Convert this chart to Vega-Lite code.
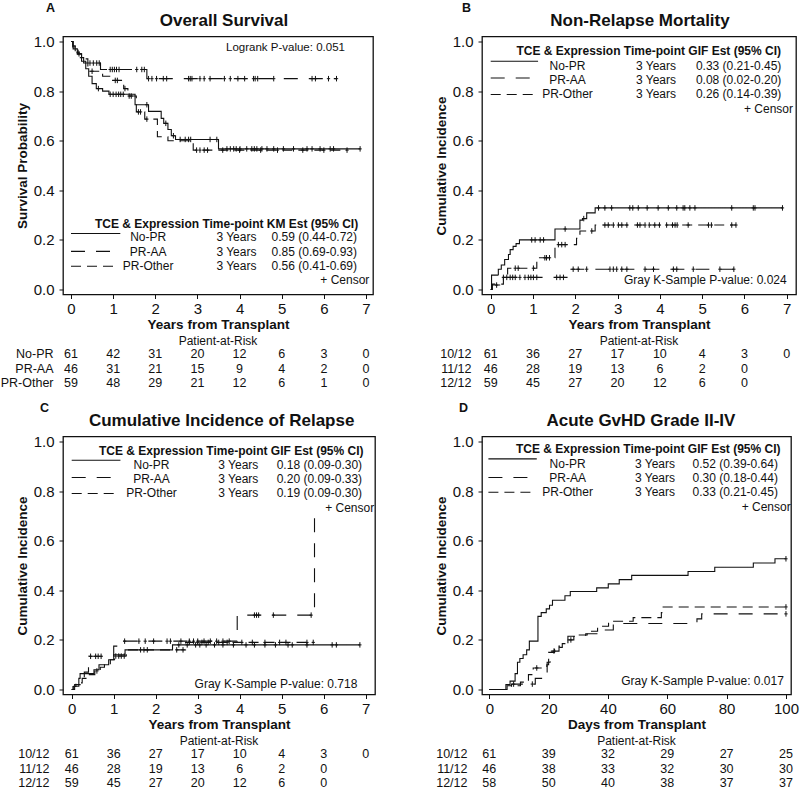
{
"$schema": "https://vega.github.io/schema/vega-lite/v6.json",
"padding": {"left": 0, "top": 1.5, "right": 0, "bottom": 0},
"background": "white",
"columns": 2,
"spacing": {"row": 44, "column": 107},
"bounds": "flush",
"config": {
  "font": "Liberation Sans",
  "view": {"stroke": "#111", "strokeWidth": 1.3},
  "axis": {"grid": false, "domain": false, "ticks": true, "tickColor": "#111", "tickSize": 4, "labelColor": "#111", "labelFontSize": 15, "labelFont": "Liberation Sans", "titleFont": "Liberation Sans", "titleFontSize": 13.5, "titleFontWeight": "bold", "titleColor": "#111"},
  "axisX": {"labelPadding": 3, "titlePadding": 1},
  "axisY": {"labelPadding": 5, "titlePadding": 4},
  "title": {"font": "Liberation Sans", "color": "#111"},
  "text": {"font": "Liberation Sans", "fontSize": 12, "color": "#111"}
},
"datasets": {
"curveA": [
{"g":"No-PR","t":0,"s":1},{"g":"No-PR","t":0.05,"s":0.97},{"g":"No-PR","t":0.15,"s":0.95},{"g":"No-PR","t":0.25,"s":0.92},{"g":"No-PR","t":0.35,"s":0.89},{"g":"No-PR","t":0.42,"s":0.86},{"g":"No-PR","t":0.5,"s":0.83},{"g":"No-PR","t":0.6,"s":0.81},{"g":"No-PR","t":0.75,"s":0.8},{"g":"No-PR","t":0.9,"s":0.787},{"g":"No-PR","t":1.52,"s":0.745},{"g":"No-PR","t":1.84,"s":0.718},{"g":"No-PR","t":2.14,"s":0.69},{"g":"No-PR","t":2.2,"s":0.67},{"g":"No-PR","t":2.3,"s":0.645},{"g":"No-PR","t":2.38,"s":0.62},{"g":"No-PR","t":2.48,"s":0.605},{"g":"No-PR","t":3.5,"s":0.567},{"g":"No-PR","t":6.86,"s":0.567},
{"g":"PR-AA","t":0,"s":1},{"g":"PR-AA","t":0.04,"s":0.978},{"g":"PR-AA","t":0.1,"s":0.956},{"g":"PR-AA","t":0.22,"s":0.935},{"g":"PR-AA","t":0.3,"s":0.913},{"g":"PR-AA","t":0.7,"s":0.887},{"g":"PR-AA","t":1.8,"s":0.85},{"g":"PR-AA","t":6.3,"s":0.85},
{"g":"PR-Other","t":0,"s":1},{"g":"PR-Other","t":0.05,"s":0.983},{"g":"PR-Other","t":0.1,"s":0.966},{"g":"PR-Other","t":0.15,"s":0.95},{"g":"PR-Other","t":0.25,"s":0.93},{"g":"PR-Other","t":0.4,"s":0.88},{"g":"PR-Other","t":0.75,"s":0.86},{"g":"PR-Other","t":0.95,"s":0.843},{"g":"PR-Other","t":1.25,"s":0.81},{"g":"PR-Other","t":1.35,"s":0.78},{"g":"PR-Other","t":1.55,"s":0.716},{"g":"PR-Other","t":1.75,"s":0.687},{"g":"PR-Other","t":2.05,"s":0.616},{"g":"PR-Other","t":2.3,"s":0.6},{"g":"PR-Other","t":2.9,"s":0.562},{"g":"PR-Other","t":6.55,"s":0.562}
],
"censA": [
{"g":"No-PR","t":0.65,"s":0.81},{"g":"No-PR","t":0.93,"s":0.787},{"g":"No-PR","t":1.0,"s":0.787},{"g":"No-PR","t":1.07,"s":0.787},{"g":"No-PR","t":1.13,"s":0.787},{"g":"No-PR","t":1.18,"s":0.787},{"g":"No-PR","t":1.24,"s":0.787},{"g":"No-PR","t":1.8,"s":0.745},{"g":"No-PR","t":2.25,"s":0.67},{"g":"No-PR","t":2.43,"s":0.62},{"g":"No-PR","t":2.59,"s":0.605},{"g":"No-PR","t":2.71,"s":0.605},{"g":"No-PR","t":2.79,"s":0.605},{"g":"No-PR","t":2.84,"s":0.605},{"g":"No-PR","t":3.3,"s":0.605},{"g":"No-PR","t":3.46,"s":0.605},{"g":"No-PR","t":3.7,"s":0.567},{"g":"No-PR","t":3.78,"s":0.567},{"g":"No-PR","t":3.86,"s":0.567},{"g":"No-PR","t":3.92,"s":0.567},{"g":"No-PR","t":4.01,"s":0.567},{"g":"No-PR","t":4.17,"s":0.567},{"g":"No-PR","t":4.29,"s":0.567},{"g":"No-PR","t":4.35,"s":0.567},{"g":"No-PR","t":4.41,"s":0.567},{"g":"No-PR","t":4.53,"s":0.567},{"g":"No-PR","t":4.65,"s":0.567},{"g":"No-PR","t":4.81,"s":0.567},{"g":"No-PR","t":5.04,"s":0.567},{"g":"No-PR","t":5.28,"s":0.567},{"g":"No-PR","t":5.6,"s":0.567},{"g":"No-PR","t":5.72,"s":0.567},{"g":"No-PR","t":5.91,"s":0.567},{"g":"No-PR","t":6.15,"s":0.567},{"g":"No-PR","t":6.23,"s":0.567},{"g":"No-PR","t":6.86,"s":0.567},
{"g":"PR-AA","t":0.17,"s":0.956},{"g":"PR-AA","t":0.45,"s":0.913},{"g":"PR-AA","t":0.53,"s":0.913},{"g":"PR-AA","t":0.61,"s":0.913},{"g":"PR-AA","t":0.67,"s":0.913},{"g":"PR-AA","t":0.93,"s":0.887},{"g":"PR-AA","t":0.98,"s":0.887},{"g":"PR-AA","t":1.03,"s":0.887},{"g":"PR-AA","t":1.08,"s":0.887},{"g":"PR-AA","t":1.14,"s":0.887},{"g":"PR-AA","t":1.56,"s":0.887},{"g":"PR-AA","t":1.68,"s":0.887},{"g":"PR-AA","t":1.74,"s":0.887},{"g":"PR-AA","t":1.84,"s":0.85},{"g":"PR-AA","t":1.92,"s":0.85},{"g":"PR-AA","t":2.03,"s":0.85},{"g":"PR-AA","t":2.19,"s":0.85},{"g":"PR-AA","t":2.27,"s":0.85},{"g":"PR-AA","t":2.79,"s":0.85},{"g":"PR-AA","t":2.83,"s":0.85},{"g":"PR-AA","t":2.87,"s":0.85},{"g":"PR-AA","t":3.06,"s":0.85},{"g":"PR-AA","t":3.16,"s":0.85},{"g":"PR-AA","t":3.3,"s":0.85},{"g":"PR-AA","t":3.64,"s":0.85},{"g":"PR-AA","t":3.78,"s":0.85},{"g":"PR-AA","t":3.96,"s":0.85},{"g":"PR-AA","t":4.12,"s":0.85},{"g":"PR-AA","t":4.33,"s":0.85},{"g":"PR-AA","t":4.37,"s":0.85},{"g":"PR-AA","t":4.43,"s":0.85},{"g":"PR-AA","t":4.81,"s":0.85},{"g":"PR-AA","t":5.72,"s":0.85},{"g":"PR-AA","t":5.8,"s":0.85},{"g":"PR-AA","t":6.11,"s":0.85},{"g":"PR-AA","t":6.3,"s":0.85},
{"g":"PR-Other","t":0.19,"s":0.95},{"g":"PR-Other","t":0.5,"s":0.88},{"g":"PR-Other","t":1.05,"s":0.843},{"g":"PR-Other","t":1.1,"s":0.843},{"g":"PR-Other","t":1.28,"s":0.81},{"g":"PR-Other","t":1.38,"s":0.78},{"g":"PR-Other","t":1.43,"s":0.78},{"g":"PR-Other","t":1.6,"s":0.716},{"g":"PR-Other","t":1.65,"s":0.716},{"g":"PR-Other","t":1.8,"s":0.687},{"g":"PR-Other","t":2.98,"s":0.562},{"g":"PR-Other","t":3.06,"s":0.562},{"g":"PR-Other","t":3.16,"s":0.562},{"g":"PR-Other","t":3.24,"s":0.562},{"g":"PR-Other","t":3.6,"s":0.562},{"g":"PR-Other","t":4.0,"s":0.562},{"g":"PR-Other","t":4.5,"s":0.562},{"g":"PR-Other","t":4.9,"s":0.562},{"g":"PR-Other","t":5.5,"s":0.562},{"g":"PR-Other","t":6.0,"s":0.562},{"g":"PR-Other","t":6.55,"s":0.562}
],
"curveB": [
{"g":"No-PR","t":0,"s":0},{"g":"No-PR","t":0.02,"s":0.058},{"g":"No-PR","t":0.18,"s":0.082},{"g":"No-PR","t":0.25,"s":0.099},{"g":"No-PR","t":0.33,"s":0.121},{"g":"No-PR","t":0.42,"s":0.141},{"g":"No-PR","t":0.46,"s":0.161},{"g":"No-PR","t":0.53,"s":0.174},{"g":"No-PR","t":0.6,"s":0.185},{"g":"No-PR","t":0.68,"s":0.2},{"g":"No-PR","t":1.52,"s":0.244},{"g":"No-PR","t":2.11,"s":0.28},{"g":"No-PR","t":2.17,"s":0.286},{"g":"No-PR","t":2.27,"s":0.309},{"g":"No-PR","t":2.47,"s":0.329},{"g":"No-PR","t":6.9,"s":0.329},
{"g":"PR-AA","t":0,"s":0},{"g":"PR-AA","t":0.02,"s":0.018},{"g":"PR-AA","t":0.26,"s":0.049},{"g":"PR-AA","t":1.88,"s":0.082},{"g":"PR-AA","t":5.75,"s":0.082},
{"g":"PR-Other","t":0,"s":0},{"g":"PR-Other","t":0.04,"s":0.022},{"g":"PR-Other","t":0.3,"s":0.06},{"g":"PR-Other","t":0.4,"s":0.086},{"g":"PR-Other","t":1.09,"s":0.128},{"g":"PR-Other","t":1.52,"s":0.181},{"g":"PR-Other","t":2.03,"s":0.207},{"g":"PR-Other","t":2.11,"s":0.236},{"g":"PR-Other","t":2.47,"s":0.26},{"g":"PR-Other","t":5.8,"s":0.26}
],
"censB": [
{"g":"No-PR","t":0.97,"s":0.2},{"g":"No-PR","t":1.05,"s":0.2},{"g":"No-PR","t":1.17,"s":0.2},{"g":"No-PR","t":1.25,"s":0.2},{"g":"No-PR","t":1.76,"s":0.244},{"g":"No-PR","t":2.2,"s":0.286},{"g":"No-PR","t":2.55,"s":0.329},{"g":"No-PR","t":2.7,"s":0.329},{"g":"No-PR","t":2.86,"s":0.329},{"g":"No-PR","t":3.29,"s":0.329},{"g":"No-PR","t":3.36,"s":0.329},{"g":"No-PR","t":3.49,"s":0.329},{"g":"No-PR","t":3.7,"s":0.329},{"g":"No-PR","t":3.96,"s":0.329},{"g":"No-PR","t":4.2,"s":0.329},{"g":"No-PR","t":4.4,"s":0.329},{"g":"No-PR","t":4.55,"s":0.329},{"g":"No-PR","t":4.59,"s":0.329},{"g":"No-PR","t":4.71,"s":0.329},{"g":"No-PR","t":4.83,"s":0.329},{"g":"No-PR","t":5.7,"s":0.329},{"g":"No-PR","t":6.21,"s":0.329},{"g":"No-PR","t":6.25,"s":0.329},{"g":"No-PR","t":6.9,"s":0.329},
{"g":"PR-AA","t":0.14,"s":0.018},{"g":"PR-AA","t":0.3,"s":0.049},{"g":"PR-AA","t":0.38,"s":0.049},{"g":"PR-AA","t":0.46,"s":0.049},{"g":"PR-AA","t":0.52,"s":0.049},{"g":"PR-AA","t":0.58,"s":0.049},{"g":"PR-AA","t":0.69,"s":0.049},{"g":"PR-AA","t":0.81,"s":0.049},{"g":"PR-AA","t":0.89,"s":0.049},{"g":"PR-AA","t":0.95,"s":0.049},{"g":"PR-AA","t":1.01,"s":0.049},{"g":"PR-AA","t":1.09,"s":0.049},{"g":"PR-AA","t":1.56,"s":0.049},{"g":"PR-AA","t":1.64,"s":0.049},{"g":"PR-AA","t":1.72,"s":0.049},{"g":"PR-AA","t":1.95,"s":0.082},{"g":"PR-AA","t":2.07,"s":0.082},{"g":"PR-AA","t":2.27,"s":0.082},{"g":"PR-AA","t":2.82,"s":0.082},{"g":"PR-AA","t":2.9,"s":0.082},{"g":"PR-AA","t":2.98,"s":0.082},{"g":"PR-AA","t":3.1,"s":0.082},{"g":"PR-AA","t":3.22,"s":0.082},{"g":"PR-AA","t":3.65,"s":0.082},{"g":"PR-AA","t":3.85,"s":0.082},{"g":"PR-AA","t":4.32,"s":0.082},{"g":"PR-AA","t":4.4,"s":0.082},{"g":"PR-AA","t":4.79,"s":0.082},{"g":"PR-AA","t":5.42,"s":0.082},{"g":"PR-AA","t":5.75,"s":0.082},
{"g":"PR-Other","t":0.58,"s":0.086},{"g":"PR-Other","t":0.65,"s":0.086},{"g":"PR-Other","t":1.01,"s":0.086},{"g":"PR-Other","t":1.28,"s":0.128},{"g":"PR-Other","t":1.32,"s":0.128},{"g":"PR-Other","t":1.39,"s":0.128},{"g":"PR-Other","t":1.6,"s":0.181},{"g":"PR-Other","t":1.68,"s":0.181},{"g":"PR-Other","t":1.76,"s":0.181},{"g":"PR-Other","t":2.39,"s":0.236},{"g":"PR-Other","t":2.7,"s":0.26},{"g":"PR-Other","t":2.78,"s":0.26},{"g":"PR-Other","t":2.9,"s":0.26},{"g":"PR-Other","t":3.02,"s":0.26},{"g":"PR-Other","t":3.1,"s":0.26},{"g":"PR-Other","t":3.22,"s":0.26},{"g":"PR-Other","t":3.47,"s":0.26},{"g":"PR-Other","t":3.53,"s":0.26},{"g":"PR-Other","t":3.65,"s":0.26},{"g":"PR-Other","t":3.75,"s":0.26},{"g":"PR-Other","t":3.88,"s":0.26},{"g":"PR-Other","t":3.99,"s":0.26},{"g":"PR-Other","t":4.16,"s":0.26},{"g":"PR-Other","t":4.3,"s":0.26},{"g":"PR-Other","t":4.36,"s":0.26},{"g":"PR-Other","t":4.41,"s":0.26},{"g":"PR-Other","t":4.67,"s":0.26},{"g":"PR-Other","t":5.15,"s":0.26},{"g":"PR-Other","t":5.22,"s":0.26},{"g":"PR-Other","t":5.7,"s":0.26},{"g":"PR-Other","t":5.8,"s":0.26}
],
"curveC": [
{"g":"No-PR","t":0,"s":0},{"g":"No-PR","t":0.05,"s":0.013},{"g":"No-PR","t":0.17,"s":0.045},{"g":"No-PR","t":0.2,"s":0.064},{"g":"No-PR","t":0.53,"s":0.08},{"g":"No-PR","t":0.65,"s":0.1},{"g":"No-PR","t":0.88,"s":0.12},{"g":"No-PR","t":1.0,"s":0.14},{"g":"No-PR","t":1.27,"s":0.16},{"g":"No-PR","t":2.4,"s":0.18},{"g":"No-PR","t":6.86,"s":0.18},
{"g":"PR-AA","t":0,"s":0},{"g":"PR-AA","t":0.07,"s":0.02},{"g":"PR-AA","t":0.2,"s":0.045},{"g":"PR-AA","t":0.3,"s":0.07},{"g":"PR-AA","t":0.4,"s":0.134},{"g":"PR-AA","t":1.0,"s":0.175},{"g":"PR-AA","t":1.1,"s":0.195},{"g":"PR-AA","t":3.94,"s":0.3},{"g":"PR-AA","t":5.78,"s":0.69},
{"g":"PR-Other","t":0,"s":0},{"g":"PR-Other","t":0.03,"s":0.012},{"g":"PR-Other","t":0.1,"s":0.027},{"g":"PR-Other","t":0.25,"s":0.045},{"g":"PR-Other","t":0.42,"s":0.06},{"g":"PR-Other","t":0.55,"s":0.075},{"g":"PR-Other","t":0.68,"s":0.09},{"g":"PR-Other","t":0.78,"s":0.1},{"g":"PR-Other","t":0.92,"s":0.12},{"g":"PR-Other","t":1.02,"s":0.135},{"g":"PR-Other","t":1.3,"s":0.16},{"g":"PR-Other","t":2.71,"s":0.19},{"g":"PR-Other","t":5.75,"s":0.19}
],
"censC": [
{"g":"No-PR","t":1.64,"s":0.16},{"g":"No-PR","t":1.72,"s":0.16},{"g":"No-PR","t":1.8,"s":0.16},{"g":"No-PR","t":2.55,"s":0.18},{"g":"No-PR","t":2.75,"s":0.18},{"g":"No-PR","t":2.95,"s":0.18},{"g":"No-PR","t":3.05,"s":0.18},{"g":"No-PR","t":3.2,"s":0.18},{"g":"No-PR","t":3.4,"s":0.18},{"g":"No-PR","t":3.6,"s":0.18},{"g":"No-PR","t":3.85,"s":0.18},{"g":"No-PR","t":4.15,"s":0.18},{"g":"No-PR","t":4.35,"s":0.18},{"g":"No-PR","t":4.6,"s":0.18},{"g":"No-PR","t":4.85,"s":0.18},{"g":"No-PR","t":5.15,"s":0.18},{"g":"No-PR","t":5.25,"s":0.18},{"g":"No-PR","t":5.6,"s":0.18},{"g":"No-PR","t":6.2,"s":0.18},{"g":"No-PR","t":6.3,"s":0.18},{"g":"No-PR","t":6.86,"s":0.18},
{"g":"PR-AA","t":0.45,"s":0.134},{"g":"PR-AA","t":0.57,"s":0.134},{"g":"PR-AA","t":0.63,"s":0.134},{"g":"PR-AA","t":0.7,"s":0.134},{"g":"PR-AA","t":1.26,"s":0.195},{"g":"PR-AA","t":1.6,"s":0.195},{"g":"PR-AA","t":1.75,"s":0.195},{"g":"PR-AA","t":1.95,"s":0.195},{"g":"PR-AA","t":2.27,"s":0.195},{"g":"PR-AA","t":2.35,"s":0.195},{"g":"PR-AA","t":2.6,"s":0.195},{"g":"PR-AA","t":2.8,"s":0.195},{"g":"PR-AA","t":2.9,"s":0.195},{"g":"PR-AA","t":3.0,"s":0.195},{"g":"PR-AA","t":3.15,"s":0.195},{"g":"PR-AA","t":3.3,"s":0.195},{"g":"PR-AA","t":3.45,"s":0.195},{"g":"PR-AA","t":3.6,"s":0.195},{"g":"PR-AA","t":3.75,"s":0.195},{"g":"PR-AA","t":4.35,"s":0.3},{"g":"PR-AA","t":4.4,"s":0.3},{"g":"PR-AA","t":4.45,"s":0.3},{"g":"PR-AA","t":4.8,"s":0.3},{"g":"PR-AA","t":5.7,"s":0.3},
{"g":"PR-Other","t":0.6,"s":0.075},{"g":"PR-Other","t":1.05,"s":0.135},{"g":"PR-Other","t":1.12,"s":0.135},{"g":"PR-Other","t":1.18,"s":0.135},{"g":"PR-Other","t":1.25,"s":0.135},{"g":"PR-Other","t":2.5,"s":0.16},{"g":"PR-Other","t":2.65,"s":0.16},{"g":"PR-Other","t":2.8,"s":0.19},{"g":"PR-Other","t":3.0,"s":0.19},{"g":"PR-Other","t":3.1,"s":0.19},{"g":"PR-Other","t":3.25,"s":0.19},{"g":"PR-Other","t":3.5,"s":0.19},{"g":"PR-Other","t":3.7,"s":0.19},{"g":"PR-Other","t":4.05,"s":0.19},{"g":"PR-Other","t":4.3,"s":0.19},{"g":"PR-Other","t":4.6,"s":0.19},{"g":"PR-Other","t":4.95,"s":0.19},{"g":"PR-Other","t":5.1,"s":0.19},{"g":"PR-Other","t":5.6,"s":0.19},{"g":"PR-Other","t":5.75,"s":0.19}
],
"curveD": [
{"g":"No-PR","t":0,"s":0},{"g":"No-PR","t":5.6,"s":0.02},{"g":"No-PR","t":7,"s":0.034},{"g":"No-PR","t":8.7,"s":0.064},{"g":"No-PR","t":9.5,"s":0.11},{"g":"No-PR","t":10.3,"s":0.125},{"g":"No-PR","t":11.4,"s":0.14},{"g":"No-PR","t":12.6,"s":0.16},{"g":"No-PR","t":13.5,"s":0.195},{"g":"No-PR","t":16.4,"s":0.295},{"g":"No-PR","t":17.5,"s":0.31},{"g":"No-PR","t":19.2,"s":0.325},{"g":"No-PR","t":20.3,"s":0.34},{"g":"No-PR","t":21.3,"s":0.36},{"g":"No-PR","t":25.5,"s":0.378},{"g":"No-PR","t":27.3,"s":0.395},{"g":"No-PR","t":36.2,"s":0.41},{"g":"No-PR","t":40.1,"s":0.426},{"g":"No-PR","t":43.8,"s":0.443},{"g":"No-PR","t":48,"s":0.46},{"g":"No-PR","t":67,"s":0.476},{"g":"No-PR","t":76,"s":0.493},{"g":"No-PR","t":89,"s":0.51},{"g":"No-PR","t":96.3,"s":0.527},{"g":"No-PR","t":100,"s":0.527},
{"g":"PR-AA","t":0,"s":0},{"g":"PR-AA","t":7.5,"s":0.022},{"g":"PR-AA","t":15.5,"s":0.045},{"g":"PR-AA","t":19.5,"s":0.11},{"g":"PR-AA","t":20.5,"s":0.155},{"g":"PR-AA","t":23.5,"s":0.175},{"g":"PR-AA","t":26.5,"s":0.215},{"g":"PR-AA","t":32.5,"s":0.225},{"g":"PR-AA","t":38,"s":0.24},{"g":"PR-AA","t":41.8,"s":0.266},{"g":"PR-AA","t":70,"s":0.285},{"g":"PR-AA","t":71.6,"s":0.305},{"g":"PR-AA","t":100,"s":0.305},
{"g":"PR-Other","t":0,"s":0},{"g":"PR-Other","t":6,"s":0.015},{"g":"PR-Other","t":10.5,"s":0.03},{"g":"PR-Other","t":13.2,"s":0.06},{"g":"PR-Other","t":14.8,"s":0.087},{"g":"PR-Other","t":19.4,"s":0.1},{"g":"PR-Other","t":20,"s":0.15},{"g":"PR-Other","t":22,"s":0.17},{"g":"PR-Other","t":24.6,"s":0.185},{"g":"PR-Other","t":26,"s":0.2},{"g":"PR-Other","t":28.5,"s":0.22},{"g":"PR-Other","t":33,"s":0.235},{"g":"PR-Other","t":36.5,"s":0.255},{"g":"PR-Other","t":40.2,"s":0.275},{"g":"PR-Other","t":48.5,"s":0.29},{"g":"PR-Other","t":58,"s":0.31},{"g":"PR-Other","t":58.6,"s":0.333},{"g":"PR-Other","t":100,"s":0.333}
],
"censD": [
{"g":"No-PR","t":100,"s":0.527},{"g":"PR-AA","t":8.2,"s":0.022},{"g":"PR-AA","t":14.5,"s":0.022},{"g":"PR-AA","t":21.8,"s":0.155},{"g":"PR-AA","t":100,"s":0.305},{"g":"PR-Other","t":16,"s":0.087},{"g":"PR-Other","t":27.5,"s":0.2},{"g":"PR-Other","t":100,"s":0.333}
],
"riskA": [
{"g":"No-PR","t":0,"n":61},{"g":"No-PR","t":1,"n":42},{"g":"No-PR","t":2,"n":31},{"g":"No-PR","t":3,"n":20},{"g":"No-PR","t":4,"n":12},{"g":"No-PR","t":5,"n":6},{"g":"No-PR","t":6,"n":3},{"g":"No-PR","t":7,"n":0},
{"g":"PR-AA","t":0,"n":46},{"g":"PR-AA","t":1,"n":31},{"g":"PR-AA","t":2,"n":21},{"g":"PR-AA","t":3,"n":15},{"g":"PR-AA","t":4,"n":9},{"g":"PR-AA","t":5,"n":4},{"g":"PR-AA","t":6,"n":2},{"g":"PR-AA","t":7,"n":0},
{"g":"PR-Other","t":0,"n":59},{"g":"PR-Other","t":1,"n":48},{"g":"PR-Other","t":2,"n":29},{"g":"PR-Other","t":3,"n":21},{"g":"PR-Other","t":4,"n":12},{"g":"PR-Other","t":5,"n":6},{"g":"PR-Other","t":6,"n":1},{"g":"PR-Other","t":7,"n":0}
],
"riskBC": [
{"g":"10/12","t":0,"n":61},{"g":"10/12","t":1,"n":36},{"g":"10/12","t":2,"n":27},{"g":"10/12","t":3,"n":17},{"g":"10/12","t":4,"n":10},{"g":"10/12","t":5,"n":4},{"g":"10/12","t":6,"n":3},{"g":"10/12","t":7,"n":0},
{"g":"11/12","t":0,"n":46},{"g":"11/12","t":1,"n":28},{"g":"11/12","t":2,"n":19},{"g":"11/12","t":3,"n":13},{"g":"11/12","t":4,"n":6},{"g":"11/12","t":5,"n":2},{"g":"11/12","t":6,"n":0},
{"g":"12/12","t":0,"n":59},{"g":"12/12","t":1,"n":45},{"g":"12/12","t":2,"n":27},{"g":"12/12","t":3,"n":20},{"g":"12/12","t":4,"n":12},{"g":"12/12","t":5,"n":6},{"g":"12/12","t":6,"n":0}
],
"riskD": [
{"g":"10/12","t":0,"n":61},{"g":"10/12","t":20,"n":39},{"g":"10/12","t":40,"n":32},{"g":"10/12","t":60,"n":29},{"g":"10/12","t":80,"n":27},{"g":"10/12","t":100,"n":25},
{"g":"11/12","t":0,"n":46},{"g":"11/12","t":20,"n":38},{"g":"11/12","t":40,"n":33},{"g":"11/12","t":60,"n":32},{"g":"11/12","t":80,"n":30},{"g":"11/12","t":100,"n":30},
{"g":"12/12","t":0,"n":58},{"g":"12/12","t":20,"n":50},{"g":"12/12","t":40,"n":40},{"g":"12/12","t":60,"n":38},{"g":"12/12","t":80,"n":37},{"g":"12/12","t":100,"n":37}
]
},
"concat": [
{
 "width": 310, "height": 258,
 "layer": [
  {"data": {"name": "curveA"}, "mark": {"type": "line", "interpolate": "step-after", "color": "#111", "strokeWidth": 1.1},
   "encoding": {
    "x": {"field": "t", "type": "quantitative", "scale": {"domain": [-0.19, 7.166], "nice": false, "zero": false}, "axis": {"values": [0,1,2,3,4,5,6,7], "format": "d", "title": "Years from Transplant"}},
    "y": {"field": "s", "type": "quantitative", "scale": {"domain": [-0.02, 1.02], "nice": false, "zero": false}, "axis": {"values": [0,0.2,0.4,0.6,0.8,1], "format": ".1f", "title": "Survival Probability"}},
    "strokeDash": {"field": "g", "type": "nominal", "scale": {"domain": ["No-PR","PR-AA","PR-Other"], "range": [[1,0],[14,11],[10,6]]}, "legend": null}}},
  {"data": {"name": "censA"}, "mark": {"type": "point", "shape": "M0,-1L0,1M-0.6,0L0.6,0", "size": 30, "filled": false, "color": "#111", "strokeWidth": 1, "opacity": 1},
   "encoding": {"x": {"field": "t", "type": "quantitative"}, "y": {"field": "s", "type": "quantitative"}}},
  {"data": {"values": [{}]}, "mark": {"type": "text", "text": "A", "align": "left", "baseline": "alphabetic", "fontWeight": "bold", "fontSize": 12.5},
   "encoding": {"x": {"datum": -0.593, "type": "quantitative"}, "y": {"datum": 1.117, "type": "quantitative"}}},
  {"data": {"values": [{}]}, "mark": {"type": "text", "text": "Overall Survival", "align": "center", "baseline": "alphabetic", "fontWeight": "bold", "fontSize": 17},
   "encoding": {"x": {"datum": 3.63, "type": "quantitative"}, "y": {"datum": 1.062, "type": "quantitative"}}},
  {"data": {"values": [{}]}, "mark": {"type": "text", "text": "TCE & Expression Time-point KM Est (95% CI)", "align": "left", "baseline": "middle", "fontWeight": "bold"},
   "encoding": {"x": {"datum": 0.57, "type": "quantitative"}, "y": {"datum": 0.265, "type": "quantitative"}}},
  {"data": {"values": [{}]}, "mark": {"type": "text", "text": ["No-PR","PR-AA","PR-Other"], "align": "center", "baseline": "middle", "lineHeight": 14.3},
   "encoding": {"x": {"datum": 1.83, "type": "quantitative"}, "y": {"datum": 0.21, "type": "quantitative"}}},
  {"data": {"values": [{}]}, "mark": {"type": "text", "text": ["3 Years","3 Years","3 Years"], "align": "left", "baseline": "middle", "lineHeight": 14.3},
   "encoding": {"x": {"datum": 3.45, "type": "quantitative"}, "y": {"datum": 0.21, "type": "quantitative"}}},
  {"data": {"values": [{}]}, "mark": {"type": "text", "text": ["0.59 (0.44-0.72)","0.85 (0.69-0.93)","0.56 (0.41-0.69)"], "align": "left", "baseline": "middle", "lineHeight": 14.3},
   "encoding": {"x": {"datum": 4.76, "type": "quantitative"}, "y": {"datum": 0.21, "type": "quantitative"}}},
  {"data": {"values": [{}]}, "mark": {"type": "text", "text": "+ Censor", "align": "right", "baseline": "middle"},
   "encoding": {"x": {"datum": 7.08, "type": "quantitative"}, "y": {"datum": 0.0375, "type": "quantitative"}}},
  {"data": {"values": [{}]}, "mark": {"type": "text", "text": "Logrank P-value: 0.051", "align": "right", "baseline": "middle", "fontSize": 11.5},
   "encoding": {"x": {"datum": 6.5, "type": "quantitative"}, "y": {"datum": 0.975, "type": "quantitative"}}},
  {"data": {"values": [{}]}, "mark": {"type": "rule", "color": "#111", "strokeWidth": 1.1},
   "encoding": {"x": {"datum": 0, "type": "quantitative"}, "x2": {"datum": 1.17}, "y": {"datum": 0.226, "type": "quantitative"}}},
  {"data": {"values": [{}]}, "mark": {"type": "rule", "color": "#111", "strokeWidth": 1.1, "strokeDash": [14,11]},
   "encoding": {"x": {"datum": 0, "type": "quantitative"}, "x2": {"datum": 0.93}, "y": {"datum": 0.154, "type": "quantitative"}}},
  {"data": {"values": [{}]}, "mark": {"type": "rule", "color": "#111", "strokeWidth": 1.1, "strokeDash": [10,6]},
   "encoding": {"x": {"datum": 0, "type": "quantitative"}, "x2": {"datum": 1.0}, "y": {"datum": 0.094, "type": "quantitative"}}}
 ]
},
{
 "width": 314, "height": 258,
 "layer": [
  {"data": {"name": "curveB"}, "mark": {"type": "line", "interpolate": "step-after", "color": "#111", "strokeWidth": 1.1},
   "encoding": {
    "x": {"field": "t", "type": "quantitative", "scale": {"domain": [-0.206, 7.22], "nice": false, "zero": false}, "axis": {"values": [0,1,2,3,4,5,6,7], "format": "d", "title": "Years from Transplant"}},
    "y": {"field": "s", "type": "quantitative", "scale": {"domain": [-0.02, 1.02], "nice": false, "zero": false}, "axis": {"values": [0,0.2,0.4,0.6,0.8,1], "format": ".1f", "title": "Cumulative Incidence"}},
    "strokeDash": {"field": "g", "type": "nominal", "scale": {"domain": ["No-PR","PR-AA","PR-Other"], "range": [[1,0],[14,11],[10,6]]}, "legend": null}}},
  {"data": {"name": "censB"}, "mark": {"type": "point", "shape": "M0,-1L0,1M-0.6,0L0.6,0", "size": 30, "filled": false, "color": "#111", "strokeWidth": 1, "opacity": 1},
   "encoding": {"x": {"field": "t", "type": "quantitative"}, "y": {"field": "s", "type": "quantitative"}}},
  {"data": {"values": [{}]}, "mark": {"type": "text", "text": "B", "align": "left", "baseline": "alphabetic", "fontWeight": "bold", "fontSize": 12.5},
   "encoding": {"x": {"datum": -0.679, "type": "quantitative"}, "y": {"datum": 1.117, "type": "quantitative"}}},
  {"data": {"values": [{}]}, "mark": {"type": "text", "text": "Non-Relapse Mortality", "align": "center", "baseline": "alphabetic", "fontWeight": "bold", "fontSize": 17},
   "encoding": {"x": {"datum": 3.53, "type": "quantitative"}, "y": {"datum": 1.062, "type": "quantitative"}}},
  {"data": {"values": [{}]}, "mark": {"type": "text", "text": "TCE & Expression Time-point GIF Est (95% CI)", "align": "left", "baseline": "middle", "fontWeight": "bold"},
   "encoding": {"x": {"datum": 0.61, "type": "quantitative"}, "y": {"datum": 0.962, "type": "quantitative"}}},
  {"data": {"values": [{}]}, "mark": {"type": "text", "text": ["No-PR","PR-AA","PR-Other"], "align": "center", "baseline": "middle", "lineHeight": 14.3},
   "encoding": {"x": {"datum": 1.816, "type": "quantitative"}, "y": {"datum": 0.902, "type": "quantitative"}}},
  {"data": {"values": [{}]}, "mark": {"type": "text", "text": ["3 Years","3 Years","3 Years"], "align": "left", "baseline": "middle", "lineHeight": 14.3},
   "encoding": {"x": {"datum": 3.435, "type": "quantitative"}, "y": {"datum": 0.902, "type": "quantitative"}}},
  {"data": {"values": [{}]}, "mark": {"type": "text", "text": ["0.33 (0.21-0.45)","0.08 (0.02-0.20)","0.26 (0.14-0.39)"], "align": "left", "baseline": "middle", "lineHeight": 14.3},
   "encoding": {"x": {"datum": 4.853, "type": "quantitative"}, "y": {"datum": 0.902, "type": "quantitative"}}},
  {"data": {"values": [{}]}, "mark": {"type": "text", "text": "+ Censor", "align": "right", "baseline": "middle"},
   "encoding": {"x": {"datum": 7.15, "type": "quantitative"}, "y": {"datum": 0.729, "type": "quantitative"}}},
  {"data": {"values": [{}]}, "mark": {"type": "text", "text": "Gray K-Sample P-value: 0.024", "align": "right", "baseline": "middle"},
   "encoding": {"x": {"datum": 7.0, "type": "quantitative"}, "y": {"datum": 0.04, "type": "quantitative"}}},
  {"data": {"values": [{}]}, "mark": {"type": "rule", "color": "#111", "strokeWidth": 1.1},
   "encoding": {"x": {"datum": 0, "type": "quantitative"}, "x2": {"datum": 1.12}, "y": {"datum": 0.92, "type": "quantitative"}}},
  {"data": {"values": [{}]}, "mark": {"type": "rule", "color": "#111", "strokeWidth": 1.1, "strokeDash": [14,11]},
   "encoding": {"x": {"datum": 0, "type": "quantitative"}, "x2": {"datum": 0.93}, "y": {"datum": 0.853, "type": "quantitative"}}},
  {"data": {"values": [{}]}, "mark": {"type": "rule", "color": "#111", "strokeWidth": 1.1, "strokeDash": [10,6]},
   "encoding": {"x": {"datum": 0, "type": "quantitative"}, "x2": {"datum": 1.0}, "y": {"datum": 0.786, "type": "quantitative"}}}
 ]
},
{
 "width": 310, "height": 54,
 "view": {"stroke": null},
 "title": {"text": "Patient-at-Risk", "frame": "group", "anchor": "middle", "fontSize": 12, "fontWeight": "normal", "offset": -9},
 "data": {"name": "riskA"},
 "mark": {"type": "text", "fontSize": 12.5, "color": "#111"},
 "encoding": {
  "x": {"field": "t", "type": "quantitative", "scale": {"domain": [-0.19, 7.166], "nice": false, "zero": false}, "axis": null},
  "y": {"field": "g", "type": "nominal", "scale": {"type": "band", "domain": ["No-PR","PR-AA","PR-Other"], "paddingInner": 0, "paddingOuter": 0.362, "align": 0.833}, "axis": {"title": null, "ticks": false, "tickSize": 0, "domain": false, "labelPadding": 10, "labelFontSize": 12.5}},
  "text": {"field": "n", "type": "nominal"}}
},
{
 "width": 314, "height": 54,
 "view": {"stroke": null},
 "title": {"text": "Patient-at-Risk", "frame": "group", "anchor": "middle", "fontSize": 12, "fontWeight": "normal", "offset": -9},
 "data": {"name": "riskBC"},
 "mark": {"type": "text", "fontSize": 12.5, "color": "#111"},
 "encoding": {
  "x": {"field": "t", "type": "quantitative", "scale": {"domain": [-0.206, 7.22], "nice": false, "zero": false}, "axis": null},
  "y": {"field": "g", "type": "nominal", "scale": {"type": "band", "domain": ["10/12","11/12","12/12"], "paddingInner": 0, "paddingOuter": 0.362, "align": 0.833}, "axis": {"title": null, "ticks": false, "tickSize": 0, "domain": false, "labelPadding": 11, "labelFontSize": 12.5}},
  "text": {"field": "n", "type": "nominal"}}
},
{
 "width": 312, "height": 258,
 "layer": [
  {"data": {"name": "curveC"}, "mark": {"type": "line", "interpolate": "step-after", "color": "#111", "strokeWidth": 1.1},
   "encoding": {
    "x": {"field": "t", "type": "quantitative", "scale": {"domain": [-0.207, 7.22], "nice": false, "zero": false}, "axis": {"values": [0,1,2,3,4,5,6,7], "format": "d", "title": "Years from Transplant"}},
    "y": {"field": "s", "type": "quantitative", "scale": {"domain": [-0.02, 1.02], "nice": false, "zero": false}, "axis": {"values": [0,0.2,0.4,0.6,0.8,1], "format": ".1f", "title": "Cumulative Incidence"}},
    "strokeDash": {"field": "g", "type": "nominal", "scale": {"domain": ["No-PR","PR-AA","PR-Other"], "range": [[1,0],[14,11],[10,6]]}, "legend": null}}},
  {"data": {"name": "censC"}, "mark": {"type": "point", "shape": "M0,-1L0,1M-0.6,0L0.6,0", "size": 30, "filled": false, "color": "#111", "strokeWidth": 1, "opacity": 1},
   "encoding": {"x": {"field": "t", "type": "quantitative"}, "y": {"field": "s", "type": "quantitative"}}},
  {"data": {"values": [{}]}, "mark": {"type": "text", "text": "C", "align": "left", "baseline": "alphabetic", "fontWeight": "bold", "fontSize": 12.5},
   "encoding": {"x": {"datum": -0.753, "type": "quantitative"}, "y": {"datum": 1.117, "type": "quantitative"}}},
  {"data": {"values": [{}]}, "mark": {"type": "text", "text": "Cumulative Incidence of Relapse", "align": "center", "baseline": "alphabetic", "fontWeight": "bold", "fontSize": 17},
   "encoding": {"x": {"datum": 3.57, "type": "quantitative"}, "y": {"datum": 1.062, "type": "quantitative"}}},
  {"data": {"values": [{}]}, "mark": {"type": "text", "text": "TCE & Expression Time-point GIF Est (95% CI)", "align": "left", "baseline": "middle", "fontWeight": "bold"},
   "encoding": {"x": {"datum": 0.65, "type": "quantitative"}, "y": {"datum": 0.962, "type": "quantitative"}}},
  {"data": {"values": [{}]}, "mark": {"type": "text", "text": ["No-PR","PR-AA","PR-Other"], "align": "center", "baseline": "middle", "lineHeight": 14.3},
   "encoding": {"x": {"datum": 1.9, "type": "quantitative"}, "y": {"datum": 0.906, "type": "quantitative"}}},
  {"data": {"values": [{}]}, "mark": {"type": "text", "text": ["3 Years","3 Years","3 Years"], "align": "left", "baseline": "middle", "lineHeight": 14.3},
   "encoding": {"x": {"datum": 3.49, "type": "quantitative"}, "y": {"datum": 0.906, "type": "quantitative"}}},
  {"data": {"values": [{}]}, "mark": {"type": "text", "text": ["0.18 (0.09-0.30)","0.20 (0.09-0.33)","0.19 (0.09-0.30)"], "align": "left", "baseline": "middle", "lineHeight": 14.3},
   "encoding": {"x": {"datum": 4.88, "type": "quantitative"}, "y": {"datum": 0.906, "type": "quantitative"}}},
  {"data": {"values": [{}]}, "mark": {"type": "text", "text": "+ Censor", "align": "right", "baseline": "middle"},
   "encoding": {"x": {"datum": 7.2, "type": "quantitative"}, "y": {"datum": 0.731, "type": "quantitative"}}},
  {"data": {"values": [{}]}, "mark": {"type": "text", "text": "Gray K-Sample P-value: 0.718", "align": "right", "baseline": "middle"},
   "encoding": {"x": {"datum": 6.8, "type": "quantitative"}, "y": {"datum": 0.024, "type": "quantitative"}}},
  {"data": {"values": [{}]}, "mark": {"type": "rule", "color": "#111", "strokeWidth": 1.1},
   "encoding": {"x": {"datum": 0, "type": "quantitative"}, "x2": {"datum": 1.16}, "y": {"datum": 0.924, "type": "quantitative"}}},
  {"data": {"values": [{}]}, "mark": {"type": "rule", "color": "#111", "strokeWidth": 1.1, "strokeDash": [14,11]},
   "encoding": {"x": {"datum": 0, "type": "quantitative"}, "x2": {"datum": 0.93}, "y": {"datum": 0.855, "type": "quantitative"}}},
  {"data": {"values": [{}]}, "mark": {"type": "rule", "color": "#111", "strokeWidth": 1.1, "strokeDash": [10,6]},
   "encoding": {"x": {"datum": 0, "type": "quantitative"}, "x2": {"datum": 1.0}, "y": {"datum": 0.79, "type": "quantitative"}}}
 ]
},
{
 "width": 309, "height": 258,
 "layer": [
  {"data": {"name": "curveD"}, "mark": {"type": "line", "interpolate": "step-after", "color": "#111", "strokeWidth": 1.1},
   "encoding": {
    "x": {"field": "t", "type": "quantitative", "scale": {"domain": [-2.46, 101.7], "nice": false, "zero": false}, "axis": {"values": [0,20,40,60,80,100], "format": "d", "title": "Days from Transplant"}},
    "y": {"field": "s", "type": "quantitative", "scale": {"domain": [-0.02, 1.02], "nice": false, "zero": false}, "axis": {"values": [0,0.2,0.4,0.6,0.8,1], "format": ".1f", "title": "Cumulative Incidence"}},
    "strokeDash": {"field": "g", "type": "nominal", "scale": {"domain": ["No-PR","PR-AA","PR-Other"], "range": [[1,0],[14,11],[10,6]]}, "legend": null}}},
  {"data": {"name": "censD"}, "mark": {"type": "point", "shape": "M0,-1L0,1M-0.6,0L0.6,0", "size": 30, "filled": false, "color": "#111", "strokeWidth": 1, "opacity": 1},
   "encoding": {"x": {"field": "t", "type": "quantitative"}, "y": {"field": "s", "type": "quantitative"}}},
  {"data": {"values": [{}]}, "mark": {"type": "text", "text": "D", "align": "left", "baseline": "alphabetic", "fontWeight": "bold", "fontSize": 12.5},
   "encoding": {"x": {"datum": -10.2, "type": "quantitative"}, "y": {"datum": 1.117, "type": "quantitative"}}},
  {"data": {"values": [{}]}, "mark": {"type": "text", "text": "Acute GvHD Grade II-IV", "align": "center", "baseline": "alphabetic", "fontWeight": "bold", "fontSize": 17},
   "encoding": {"x": {"datum": 51.1, "type": "quantitative"}, "y": {"datum": 1.062, "type": "quantitative"}}},
  {"data": {"values": [{}]}, "mark": {"type": "text", "text": "TCE & Expression Time-point GIF Est (95% CI)", "align": "left", "baseline": "middle", "fontWeight": "bold"},
   "encoding": {"x": {"datum": 9.0, "type": "quantitative"}, "y": {"datum": 0.969, "type": "quantitative"}}},
  {"data": {"values": [{}]}, "mark": {"type": "text", "text": ["No-PR","PR-AA","PR-Other"], "align": "center", "baseline": "middle", "lineHeight": 14.3},
   "encoding": {"x": {"datum": 26.4, "type": "quantitative"}, "y": {"datum": 0.911, "type": "quantitative"}}},
  {"data": {"values": [{}]}, "mark": {"type": "text", "text": ["3 Years","3 Years","3 Years"], "align": "left", "baseline": "middle", "lineHeight": 14.3},
   "encoding": {"x": {"datum": 49.1, "type": "quantitative"}, "y": {"datum": 0.911, "type": "quantitative"}}},
  {"data": {"values": [{}]}, "mark": {"type": "text", "text": ["0.52 (0.39-0.64)","0.30 (0.18-0.44)","0.33 (0.21-0.45)"], "align": "left", "baseline": "middle", "lineHeight": 14.3},
   "encoding": {"x": {"datum": 68.5, "type": "quantitative"}, "y": {"datum": 0.911, "type": "quantitative"}}},
  {"data": {"values": [{}]}, "mark": {"type": "text", "text": "+ Censor", "align": "right", "baseline": "middle"},
   "encoding": {"x": {"datum": 101.6, "type": "quantitative"}, "y": {"datum": 0.735, "type": "quantitative"}}},
  {"data": {"values": [{}]}, "mark": {"type": "text", "text": "Gray K-Sample P-value: 0.017", "align": "right", "baseline": "middle"},
   "encoding": {"x": {"datum": 99.3, "type": "quantitative"}, "y": {"datum": 0.036, "type": "quantitative"}}},
  {"data": {"values": [{}]}, "mark": {"type": "rule", "color": "#111", "strokeWidth": 1.1},
   "encoding": {"x": {"datum": -0.3, "type": "quantitative"}, "x2": {"datum": 16.0}, "y": {"datum": 0.93, "type": "quantitative"}}},
  {"data": {"values": [{}]}, "mark": {"type": "rule", "color": "#111", "strokeWidth": 1.1, "strokeDash": [14,11]},
   "encoding": {"x": {"datum": -0.3, "type": "quantitative"}, "x2": {"datum": 12.9}, "y": {"datum": 0.855, "type": "quantitative"}}},
  {"data": {"values": [{}]}, "mark": {"type": "rule", "color": "#111", "strokeWidth": 1.1, "strokeDash": [10,6]},
   "encoding": {"x": {"datum": -0.3, "type": "quantitative"}, "x2": {"datum": 13.9}, "y": {"datum": 0.795, "type": "quantitative"}}}
 ]
},
{
 "width": 312, "height": 54,
 "view": {"stroke": null},
 "title": {"text": "Patient-at-Risk", "frame": "group", "anchor": "middle", "fontSize": 12, "fontWeight": "normal", "offset": -9},
 "data": {"name": "riskBC"},
 "mark": {"type": "text", "fontSize": 12.5, "color": "#111"},
 "encoding": {
  "x": {"field": "t", "type": "quantitative", "scale": {"domain": [-0.207, 7.22], "nice": false, "zero": false}, "axis": null},
  "y": {"field": "g", "type": "nominal", "scale": {"type": "band", "domain": ["10/12","11/12","12/12"], "paddingInner": 0, "paddingOuter": 0.362, "align": 0.833}, "axis": {"title": null, "ticks": false, "tickSize": 0, "domain": false, "labelPadding": 14, "labelFontSize": 12.5}},
  "text": {"field": "n", "type": "nominal"}}
},
{
 "width": 309, "height": 54,
 "view": {"stroke": null},
 "title": {"text": "Patient-at-Risk", "frame": "group", "anchor": "middle", "fontSize": 12, "fontWeight": "normal", "offset": -9},
 "data": {"name": "riskD"},
 "mark": {"type": "text", "fontSize": 12.5, "color": "#111"},
 "encoding": {
  "x": {"field": "t", "type": "quantitative", "scale": {"domain": [-2.46, 101.7], "nice": false, "zero": false}, "axis": null},
  "y": {"field": "g", "type": "nominal", "scale": {"type": "band", "domain": ["10/12","11/12","12/12"], "paddingInner": 0, "paddingOuter": 0.362, "align": 0.833}, "axis": {"title": null, "ticks": false, "tickSize": 0, "domain": false, "labelPadding": 15, "labelFontSize": 12.5}},
  "text": {"field": "n", "type": "nominal"}}
}
]
}
